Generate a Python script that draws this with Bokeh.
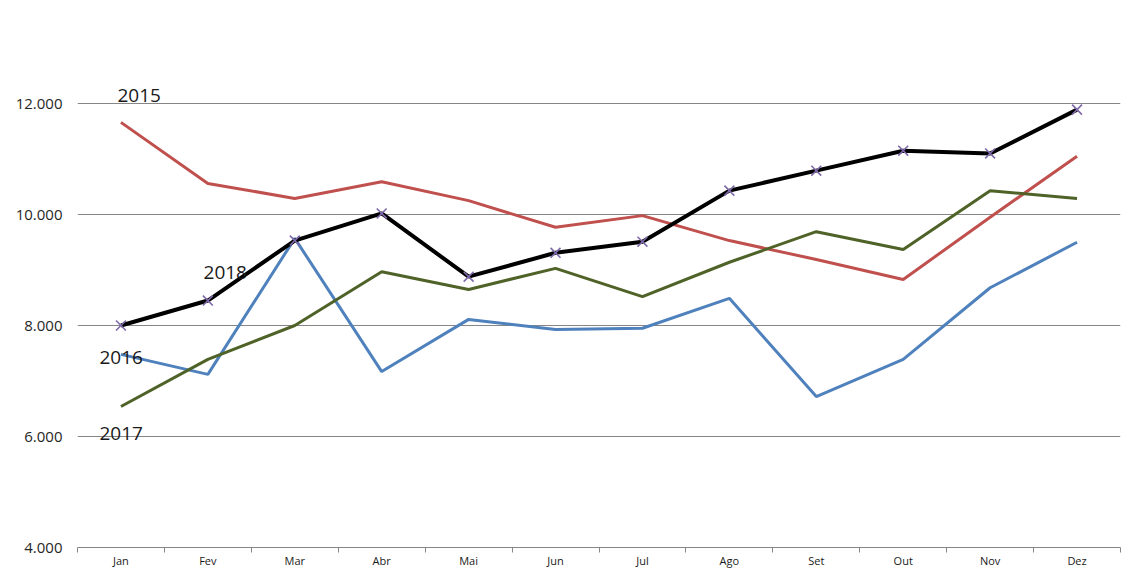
from bokeh.plotting import figure
from bokeh.models import Range1d, FixedTicker, Label
from bokeh.embed import file_html
from bokeh.resources import INLINE

months = ["Jan", "Fev", "Mar", "Abr", "Mai", "Jun", "Jul", "Ago", "Set", "Out", "Nov", "Dez"]
y2015 = [11660, 10560, 10290, 10590, 10250, 9770, 9980, 9530, 9190, 8830, 9950, 11050]
y2016 = [7480, 7120, 9570, 7170, 8110, 7930, 7950, 8490, 6720, 7390, 8680, 9500]
y2017 = [6540, 7390, 8000, 8970, 8650, 9030, 8520, 9140, 9690, 9370, 10430, 10290]
y2018 = [8000, 8450, 9530, 10020, 8880, 9310, 9510, 10430, 10790, 11150, 11100, 11890]
y_ticks = [4000, 6000, 8000, 10000, 12000]
y_tick_labels = ["4.000", "6.000", "8.000", "10.000", "12.000"]

xs = list(range(1, len(months) + 1))
y_min, y_max = 4000, 13856

p = figure(width=1140, height=570, output_backend="svg", toolbar_location=None,
           x_range=Range1d(0.5, len(months) + 0.5), y_range=Range1d(y_min, y_max),
           min_border_left=77, min_border_right=20, min_border_top=0, min_border_bottom=22)
p.outline_line_color = None
p.background_fill_color = "white"
p.border_fill_color = "white"

# x axis: month names under the centres, tick marks at category boundaries
p.xaxis.ticker = FixedTicker(ticks=xs, minor_ticks=[i + 0.5 for i in range(0, len(months) + 1)])
p.xaxis.major_label_overrides = {x: m for x, m in zip(xs, months)}
p.xaxis.major_tick_line_color = None
p.xaxis.major_tick_out = 0
p.xaxis.major_tick_in = 0
p.xaxis.minor_tick_out = 5
p.xaxis.minor_tick_in = 0
p.xaxis.minor_tick_line_color = "#868686"
p.xaxis.axis_line_color = "#868686"
p.xaxis.axis_line_width = 1
p.xaxis.major_label_standoff = 0
p.xaxis.major_label_text_font = "Open Sans"
p.xaxis.major_label_text_font_size = "11px"
p.xaxis.major_label_text_color = "#1a1a1a"
p.xgrid.visible = False

# y axis
p.yaxis.ticker = FixedTicker(ticks=y_ticks)
p.yaxis.major_label_overrides = {t: l for t, l in zip(y_ticks, y_tick_labels)}
p.yaxis.axis_line_color = None
p.yaxis.major_tick_line_color = None
p.yaxis.minor_tick_line_color = None
p.yaxis.major_tick_out = 0
p.yaxis.major_tick_in = 0
p.yaxis.minor_tick_out = 0
p.yaxis.major_label_standoff = 15
p.yaxis.major_label_text_font = "Open Sans"
p.yaxis.major_label_text_font_size = "15px"
p.yaxis.major_label_text_color = "#262626"
p.ygrid.ticker = FixedTicker(ticks=y_ticks)
p.ygrid.grid_line_color = "#868686"
p.ygrid.grid_line_width = 1

p.line(xs, y2015, line_color="#C0504D", line_width=3)
p.line(xs, y2016, line_color="#4F81BD", line_width=3)
p.line(xs, y2017, line_color="#4F6228", line_width=3)
p.line(xs, y2018, line_color="#000000", line_width=4)
p.scatter(xs, y2018, marker="x", size=14, line_color="#7E69A8", line_width=1.6)

label_style = dict(x_units="data", y_units="data", text_font="Open Sans",
                   text_font_size="19px", text_color="#1a1a1a", text_baseline="middle",
                   text_align="left")
p.add_layout(Label(x=0.96, y=12153, text="2015", **label_style))
p.add_layout(Label(x=1.95, y=8955, text="2018", **label_style))
p.add_layout(Label(x=0.753, y=7423, text="2016", **label_style))
p.add_layout(Label(x=0.753, y=6063, text="2017", **label_style))

open("out.html", "w").write(file_html(p, INLINE))
